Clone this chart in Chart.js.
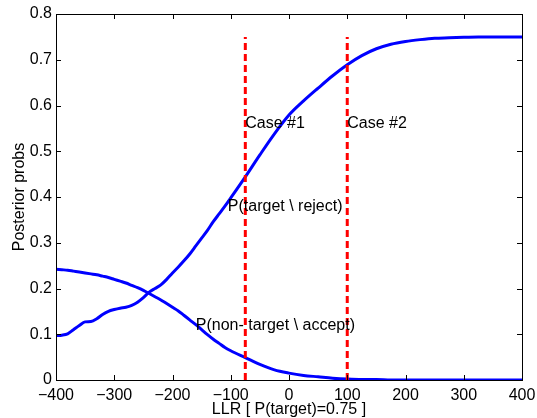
<!DOCTYPE html>
<html>
<head>
<meta charset="utf-8">
<script src="https://cdn.jsdelivr.net/npm/chart.js@4/dist/chart.umd.min.js"></script>
<style>
  html, body { margin: 0; padding: 0; background: #fff; }
  #wrap { width: 537px; height: 418px; }
</style>
</head>
<body>
<div id="wrap"><canvas id="plot" width="537" height="418"></canvas></div>
<script>
// LLR axis samples (x) and the two posterior curves
const llr = [-400, -390, -380, -370, -360, -350, -340, -330, -320, -310,
  -300, -290, -280, -270, -260, -250, -240, -230, -220, -210,
  -200, -190, -180, -170, -160, -150, -140, -130, -120, -110,
  -100, -75, -50, -25, 0, 25, 50, 75, 100, 125,
  150, 175, 200, 225, 250, 275, 300, 325, 350, 375, 400];
const pTargetReject = [0.097, 0.098, 0.101, 0.110, 0.119, 0.127, 0.128, 0.134, 0.143, 0.150,
  0.154, 0.157, 0.159, 0.163, 0.170, 0.180, 0.192, 0.200, 0.208, 0.220,
  0.234, 0.247, 0.261, 0.276, 0.293, 0.310, 0.327, 0.346, 0.363, 0.380,
  0.398, 0.444, 0.492, 0.538, 0.579, 0.610, 0.638, 0.665, 0.689, 0.709,
  0.724, 0.734, 0.740, 0.744, 0.747, 0.748, 0.749, 0.750, 0.750, 0.750, 0.750];
const pNonTargetAccept = [0.242, 0.241, 0.240, 0.238, 0.236, 0.234, 0.232, 0.230, 0.227, 0.224,
  0.220, 0.216, 0.212, 0.207, 0.202, 0.196, 0.189, 0.182, 0.175, 0.167,
  0.159, 0.151, 0.141, 0.131, 0.121, 0.110, 0.099, 0.089, 0.080, 0.071,
  0.064, 0.049, 0.034, 0.022, 0.015, 0.010, 0.007, 0.004, 0.002, 0.001,
  0.001, 0, 0, 0, 0, 0, 0, 0, 0, 0, 0];

// vertical threshold lines (cases) and their height
const caseX = [-75, 100];
const caseTop = 0.75;

// text labels placed in data coordinates
const noteText = ['Case #1', 'Case #2', 'P(target \\ reject)', 'P(non- target \\ accept)'];
const noteX = [-75, 100, -105, -160];
const noteY = [0.56, 0.56, 0.38, 0.12];

// ticks
const xTicks = [-400, -300, -200, -100, 0, 100, 200, 300, 400];
const xTickLabels = ['\u2212400', '\u2212300', '\u2212200', '\u2212100', '0', '100', '200', '300', '400'];
const yTicks = [0, 0.1, 0.2, 0.3, 0.4, 0.5, 0.6, 0.7, 0.8];
const yTickLabels = ['0', '0.1', '0.2', '0.3', '0.4', '0.5', '0.6', '0.7', '0.8'];

const FONT = 'Liberation Sans, Arial, Helvetica, sans-serif';
const toPts = (xs, ys) => xs.map((x, i) => ({ x: x, y: ys[i] }));

// frame + inward ticks on all four sides (matlab style) and text notes
const matlabAxes = {
  id: 'matlabAxes',
  afterDatasetsDraw(chart) {
    const { ctx, chartArea: a, scales } = chart;
    const xs = scales.x, ys = scales.y;
    ctx.save();
    ctx.strokeStyle = '#000';
    ctx.lineWidth = 1;
    ctx.beginPath();
    xTicks.forEach(v => {
      const px = Math.round(xs.getPixelForValue(v)) + 0.5;
      ctx.moveTo(px, a.bottom); ctx.lineTo(px, a.bottom - 5);
      ctx.moveTo(px, a.top); ctx.lineTo(px, a.top + 5);
    });
    yTicks.forEach(v => {
      const py = Math.round(ys.getPixelForValue(v)) + 0.5;
      ctx.moveTo(a.left, py); ctx.lineTo(a.left + 5, py);
      ctx.moveTo(a.right, py); ctx.lineTo(a.right - 5, py);
    });
    ctx.stroke();
    ctx.strokeRect(Math.round(a.left) + 0.5, Math.round(a.top) + 0.5,
      Math.round(a.right - a.left), Math.round(a.bottom - a.top));

    ctx.fillStyle = '#000';
    ctx.font = '16px ' + FONT;
    ctx.textAlign = 'left';
    ctx.textBaseline = 'middle';
    noteText.forEach((t, i) => {
      ctx.fillText(t, xs.getPixelForValue(noteX[i]), ys.getPixelForValue(noteY[i]));
    });
    ctx.restore();
  }
};

const blueLine = {
  borderColor: '#0000ff',
  borderWidth: 3,
  pointRadius: 0,
  fill: false,
  cubicInterpolationMode: 'monotone',
  order: 2
};

const datasets = [
  Object.assign({ label: 'P(target \\ reject)', data: toPts(llr, pTargetReject) }, blueLine),
  Object.assign({ label: 'P(non-target \\ accept)', data: toPts(llr, pNonTargetAccept) }, blueLine)
];
caseX.forEach((cx, i) => {
  datasets.push({
    label: 'Case #' + (i + 1),
    data: [{ x: cx, y: 0 }, { x: cx, y: caseTop }],
    borderColor: '#ff0000',
    borderWidth: 3,
    borderDash: [7, 4],
    pointRadius: 0,
    fill: false,
    order: 1
  });
});

new Chart(document.getElementById('plot'), {
  type: 'line',
  data: { datasets: datasets },
  plugins: [matlabAxes],
  options: {
    responsive: false,
    animation: false,
    devicePixelRatio: 1,
    layout: { padding: { top: 14, right: 15, left: 0, bottom: 0 } },
    plugins: { legend: { display: false }, tooltip: { enabled: false } },
    scales: {
      x: {
        type: 'linear',
        min: -400, max: 400,
        afterBuildTicks: s => { s.ticks = xTicks.map(v => ({ value: v })); },
        afterFit: s => { s.height = 38; s.paddingLeft = 0; s.paddingRight = 0; },
        grid: { display: false, drawTicks: false },
        border: { display: false },
        ticks: {
          color: '#000', padding: 6,
          font: { family: FONT, size: 16 },
          maxRotation: 0, autoSkip: false,
          callback: v => xTickLabels[xTicks.indexOf(v)]
        },
        title: {
          display: true, text: 'LLR [ P(target)=0.75 ]', color: '#000',
          font: { family: FONT, size: 16, lineHeight: 1 }, padding: 0
        }
      },
      y: {
        type: 'linear',
        min: 0, max: 0.8,
        afterBuildTicks: s => { s.ticks = yTicks.map(v => ({ value: v })); },
        afterFit: s => { s.width = 56; s.paddingTop = 0; s.paddingBottom = 0; },
        grid: { display: false, drawTicks: false },
        border: { display: false },
        ticks: {
          color: '#000', padding: 4,
          font: { family: FONT, size: 16 },
          autoSkip: false,
          callback: v => yTickLabels[yTicks.findIndex(t => Math.abs(t - v) < 1e-9)]
        },
        title: {
          display: true, text: 'Posterior probs', color: '#000',
          font: { family: FONT, size: 16, lineHeight: 1.2 }, padding: { top: 10, bottom: 0 }
        }
      }
    }
  }
});
</script>
</body>
</html>
